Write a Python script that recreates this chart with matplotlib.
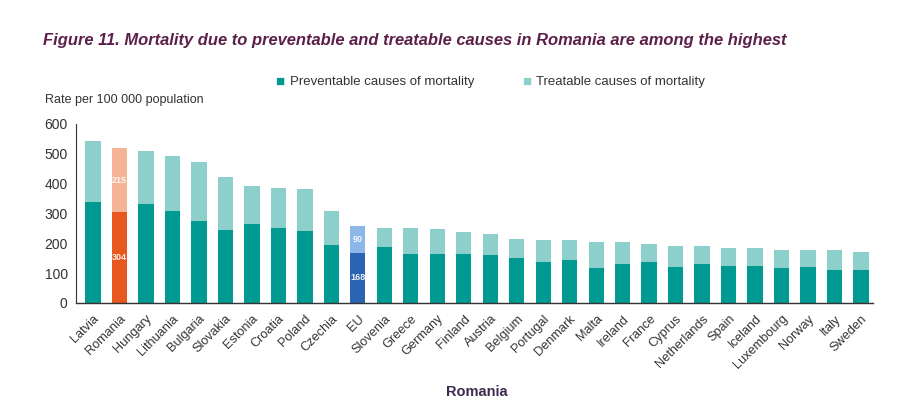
import matplotlib.pyplot as plt
import numpy as np

plt.rcParams['font.family'] = ['Liberation Sans', 'DejaVu Sans']

countries = ["Latvia", "Romania", "Hungary", "Lithuania", "Bulgaria", "Slovakia",
             "Estonia", "Croatia", "Poland", "Czechia", "EU", "Slovenia", "Greece",
             "Germany", "Finland", "Austria", "Belgium", "Portugal", "Denmark",
             "Malta", "Ireland", "France", "Cyprus", "Netherlands", "Spain",
             "Iceland", "Luxembourg", "Norway", "Italy", "Sweden"]
preventable = [340, 304, 332, 309, 276, 244, 264, 250, 241, 194, 168, 189, 165,
               163, 165, 161, 152, 136, 145, 117, 131, 136, 121, 131, 124,
               124, 117, 121, 111, 110]
treatable = [203, 215, 178, 185, 196, 177, 128, 135, 142, 114, 90, 63, 85,
             85, 72, 69, 63, 76, 65, 89, 72, 61, 71, 61, 61,
             59, 62, 58, 66, 60]

teal = "#009a93"
light_teal = "#8dcfcb"
colors_prev = [teal] * len(countries)
colors_treat = [light_teal] * len(countries)
colors_prev[1], colors_treat[1] = "#e8571e", "#f6b497"
colors_prev[10], colors_treat[10] = "#2c64b4", "#8db7e9"

fig = plt.figure(figsize=(9, 4.01), dpi=100)
ax = fig.add_axes([0.0844, 0.2444, 0.8856, 0.4464])

x = np.arange(len(countries))
w = 0.58
ax.bar(x, preventable, w, color=colors_prev)
ax.bar(x, treatable, w, bottom=preventable, color=colors_treat)

# value labels on Romania and EU
for i in (1, 10):
    ax.text(x[i], preventable[i] / 2, str(preventable[i]), ha='center', va='center',
            color='white', fontsize=6.5, fontweight='bold', alpha=0.9)
    ax.text(x[i], preventable[i] + treatable[i] / 2, str(treatable[i]), ha='center',
            va='center', color='white', fontsize=6.5, fontweight='bold', alpha=0.9)

ax.set_xlim(-0.64, len(countries) - 0.55)
ax.set_ylim(0, 600)
ax.set_yticks(range(0, 601, 100))
ax.set_xticks(x)
ax.set_xticklabels(countries, rotation=45, ha='right', rotation_mode='anchor')
ax.tick_params(axis='x', length=0, labelsize=9.2, colors='#333333', pad=7)
ax.tick_params(axis='y', length=0, labelsize=10, colors='#333333', pad=6)
for s in ('top', 'right'):
    ax.spines[s].set_visible(False)
ax.spines['left'].set_color('#333333')
ax.spines['bottom'].set_color('#333333')
ax.spines['left'].set_linewidth(0.8)
ax.spines['bottom'].set_linewidth(1.0)

fig.text(0.048, 0.90, "Figure 11. Mortality due to preventable and treatable causes in Romania are among the highest",
         fontsize=11.9, fontweight='bold', fontstyle='italic', color='#5b1f4a', va='center')
fig.text(0.05, 0.75, "Rate per 100 000 population", fontsize=9, color='#333333', va='center')

# legend
fig.text(0.306, 0.796, "\u25A0", fontsize=11, color=teal, va='center', ha='left')
fig.text(0.322, 0.796, "Preventable causes of mortality", fontsize=9.5, color='#333333', va='center')
fig.text(0.580, 0.796, "\u25A0", fontsize=11, color=light_teal, va='center', ha='left')
fig.text(0.595, 0.796, "Treatable causes of mortality", fontsize=9.5, color='#333333', va='center')

fig.text(0.53, 0.005, "Romania", fontsize=10.5, fontweight='bold', color='#3d2a4f', ha='center', va='bottom')

fig.savefig("out.png", dpi=100)
